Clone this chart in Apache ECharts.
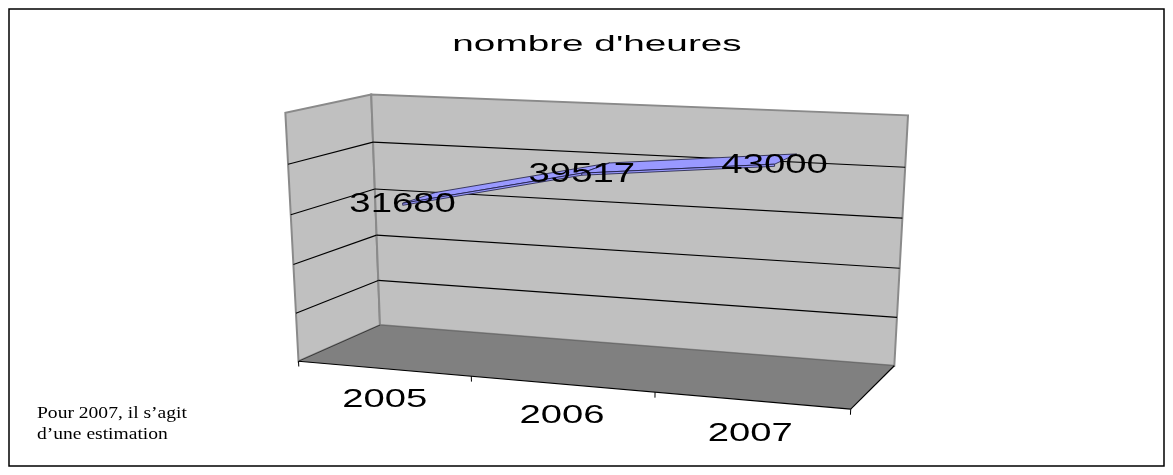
<!DOCTYPE html>
<html><head><meta charset="utf-8">
<script src="https://cdn.jsdelivr.net/npm/echarts@6/dist/echarts.min.js"></script>
<style>html,body{margin:0;padding:0;background:#fff}#c{width:1173px;height:475px}</style>
</head><body><div id="c"></div>
<script>
// ---- data ----
const chartTitle = "nombre d'heures";
const categories = ['2005', '2006', '2007'];
const values = [31680, 39517, 43000];
const valueTicks = [0, 10000, 20000, 30000, 40000, 50000];
const noteLines = ['Pour 2007, il s\u2019agit', 'd\u2019une estimation'];

// ---- layout: screen anchors of the 3D box (u: categories, v: values, w: depth front->back) ----
const anchors = [
  [0,0,1, 380,325],[0,1,1, 372,94],[1,1,1, 908,115],[1,0,1, 894,366],
  [0,0,0, 298,361],[0,1,0, 284,114],[1,0,0, 851,409],
  [0,0.8,0, 289,164],[0,0.8,1, 373,142],[0,0.2,0, 296,313],[0,0.2,1, 378,281],
  [1,0.8,1, 905,167],[1,0.2,1, 897,318],[1/3,0,0, 472,376],[2/3,0,0, 655,392]
];
const NX = 600, NY = 250, NS = 300;
function fitCamera(pts) {
  const n = 11, M = [];
  for (let i = 0; i < n; i++) M.push(new Array(n + 1).fill(0));
  const rows = [];
  pts.forEach(([X, Y, Z, px, py]) => {
    const x = (px - NX) / NS, y = (py - NY) / NS;
    rows.push([[X, Y, Z, 1, 0, 0, 0, 0, -x * X, -x * Y, -x * Z], x]);
    rows.push([[0, 0, 0, 0, X, Y, Z, 1, -y * X, -y * Y, -y * Z], y]);
  });
  rows.forEach(([a, b]) => {
    for (let i = 0; i < n; i++) {
      for (let j = 0; j < n; j++) M[i][j] += a[i] * a[j];
      M[i][n] += a[i] * b;
    }
  });
  for (let c = 0; c < n; c++) {
    let p = c;
    for (let r = c + 1; r < n; r++) if (Math.abs(M[r][c]) > Math.abs(M[p][c])) p = r;
    const t = M[c]; M[c] = M[p]; M[p] = t;
    for (let r = 0; r < n; r++) {
      if (r === c) continue;
      const f = M[r][c] / M[c][c];
      for (let k = c; k <= n; k++) M[r][k] -= f * M[c][k];
    }
  }
  return M.map((row, i) => row[n] / row[i]);
}
const cam = fitCamera(anchors);
function P(u, v, w) {
  const p = cam;
  const d = p[8] * u + p[9] * v + p[10] * w + 1;
  return [(p[0] * u + p[1] * v + p[2] * w + p[3]) / d * NS + NX,
          (p[4] * u + p[5] * v + p[6] * w + p[7]) / d * NS + NY];
}
const W0 = 0.3, W1 = 0.72;
function toUV(cs, pt) {
  return [(pt[0] - cs.x) / cs.width, (cs.y + cs.height - pt[1]) / cs.height];
}
const SANS = '"Liberation Sans", Arial, sans-serif';
const SERIF = '"Liberation Serif", "Times New Roman", serif';

function renderFrame(params, api) {
  const cs = params.coordSys;
  const ch = [];
  const poly = (pts, fill, stroke, lw) => ch.push({type: 'polygon', shape: {points: pts},
    style: {fill: fill, stroke: stroke || null, lineWidth: lw || 0}});
  const line = (a, b, stroke, lw) => ch.push({type: 'line', shape: {x1: a[0], y1: a[1], x2: b[0], y2: b[1]},
    style: {stroke: stroke, lineWidth: lw}});
  // walls
  poly([P(0,0,0), P(0,0,1), P(0,1,1), P(0,1,0)], '#c0c0c0', '#8a8a8a', 2);
  poly([P(0,0,1), P(1,0,1), P(1,1,1), P(0,1,1)], '#c0c0c0', '#8a8a8a', 2);
  // gridlines
  valueTicks.slice(1, -1).forEach(t => {
    const v = toUV(cs, api.coord([0, t]))[1];
    line(P(0, v, 0), P(0, v, 1), '#000', 1.2);
    line(P(0, v, 1), P(1, v, 1), '#000', 1.2);
  });
  // floor
  poly([P(0,0,0), P(1,0,0), P(1,0,1), P(0,0,1)], '#808080');
  line(P(0,0,1), P(1,0,1), '#6a6a6a', 1);
  line(P(0,0,0), P(0,0,1), '#3a3a3a', 1);
  line(P(1,0,0), P(1,0,1), '#000', 1.2);
  line(P(0,0,0), P(1,0,0), '#000', 1.2);
  // category ticks + labels
  const band = api.size([1, 0])[0] / cs.width;
  categories.forEach((c, i) => {
    const uc = toUV(cs, api.coord([i, 0]))[0];
    const ub = uc - band / 2;
    line(P(ub, 0, 0), P(ub, -0.022, 0), '#000', 1);
    if (i === categories.length - 1) line(P(ub + band, 0, 0), P(ub + band, -0.022, 0), '#000', 1);
    const lp = P(uc, -0.13, 0);
    ch.push({type: 'text', x: lp[0], y: lp[1], scaleX: 1.47,
      style: {text: c, fill: '#000', fontSize: 26, fontFamily: SANS, align: 'center', verticalAlign: 'middle'}});
  });
  return {type: 'group', children: ch};
}

function renderRibbon(params, api) {
  const cs = params.coordSys;
  const a = toUV(cs, api.coord([api.value(0), api.value(1)]));
  const b = toUV(cs, api.coord([api.value(2), api.value(3)]));
  const t = 0.008;
  const st = {fill: '#9999ff', stroke: '#1a1a40', lineWidth: 0.8, lineJoin: 'round'};
  return {type: 'group', children: [
    {type: 'polygon', shape: {points: [P(a[0],a[1],W0), P(b[0],b[1],W0), P(b[0],b[1],W1), P(a[0],a[1],W1)]}, style: st},
    {type: 'polygon', shape: {points: [P(a[0],a[1],W0), P(b[0],b[1],W0), P(b[0],b[1]-t,W0), P(a[0],a[1]-t,W0)]}, style: st}
  ]};
}

function renderLabel(params, api) {
  const cs = params.coordSys;
  const q = toUV(cs, api.coord([api.value(0), api.value(1)]));
  const p = P(q[0], q[1], W0);
  return {type: 'text', x: p[0], y: p[1] + 1, scaleX: 1.42,
    style: {text: String(api.value(1)), fill: '#000', fontSize: 27, fontFamily: SANS, align: 'center', verticalAlign: 'middle'}};
}

const segData = values.slice(0, -1).map((v, i) => [i, v, i + 1, values[i + 1]]);

const chart = echarts.init(document.getElementById('c'), null, {renderer: 'canvas'});
chart.setOption({
  animation: false,
  backgroundColor: '#ffffff',
  grid: {left: 380, top: 100, width: 510, height: 240, show: false},
  xAxis: {type: 'category', data: categories, boundaryGap: true, show: false},
  yAxis: {type: 'value', min: valueTicks[0], max: valueTicks[valueTicks.length - 1],
          interval: valueTicks[1] - valueTicks[0], show: false},
  graphic: [
    {type: 'rect', shape: {x: 9, y: 9, width: 1155, height: 457}, style: {fill: null, stroke: '#000', lineWidth: 1.5}, z: 0},
    {type: 'text', x: 597, y: 45, scaleX: 1.76, style: {text: chartTitle, fill: '#000', fontSize: 22, fontFamily: SANS, align: 'center', verticalAlign: 'middle'}},
    {type: 'text', x: 37, y: 414, scaleX: 1.15, style: {text: noteLines[0], fill: '#000', fontSize: 17, fontFamily: SERIF, align: 'left', verticalAlign: 'middle'}},
    {type: 'text', x: 37, y: 435, scaleX: 1.15, style: {text: noteLines[1], fill: '#000', fontSize: 17, fontFamily: SERIF, align: 'left', verticalAlign: 'middle'}}
  ],
  series: [
    {type: 'custom', name: 'frame', clip: false, z: 1, silent: true, data: [[0, 0]], encode: {x: 0, y: 1}, renderItem: renderFrame},
    {type: 'custom', name: 'ribbon', clip: false, z: 2, silent: true, data: segData, encode: {x: [0, 2], y: [1, 3]}, renderItem: renderRibbon},
    {type: 'custom', name: 'labels', clip: false, z: 3, silent: true, data: values.map((v, i) => [i, v]), encode: {x: 0, y: 1}, renderItem: renderLabel}
  ]
});
</script></body></html>
